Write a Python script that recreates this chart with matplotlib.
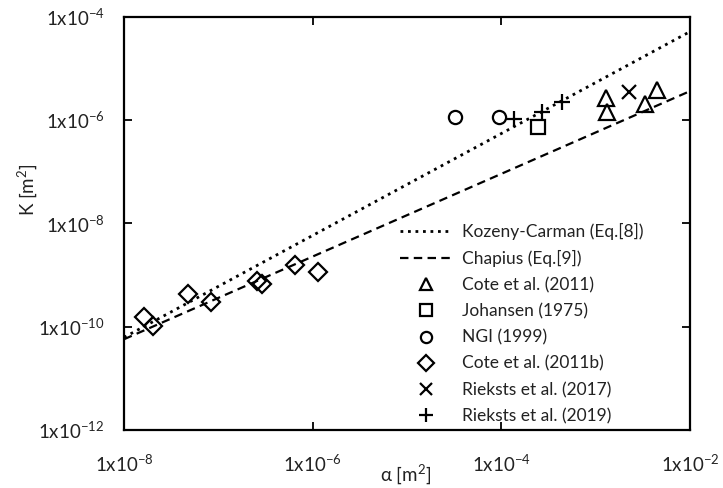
import matplotlib
matplotlib.use("Agg")
import matplotlib.pyplot as plt
from matplotlib.ticker import FixedLocator, NullLocator

plt.rcParams['font.family'] = ['Lato', 'DejaVu Sans']
plt.rcParams['mathtext.default'] = 'regular'

# Model lines (endpoints)
kc_alpha = [1e-8, 1e-2]
kc_K = [6.2e-11, 5.1e-5]
ch_alpha = [1e-8, 1e-2]
ch_K = [5.7e-11, 3.6e-6]

# Data series
cote_alpha = [1.28e-3, 1.33e-3, 3.32e-3, 4.44e-3]
cote_K = [2.64e-6, 1.45e-6, 2.05e-6, 3.83e-6]
joh_alpha = [2.42e-4]
joh_K = [7.4e-7]
ngi_alpha = [3.26e-5, 9.35e-5]
ngi_K = [1.13e-6, 1.13e-6]
cote_b_alpha = [1.64e-8, 2.01e-8, 4.79e-8, 8.34e-8, 2.54e-7, 2.91e-7, 6.46e-7, 1.14e-6]
cote_b_K = [1.56e-10, 1.05e-10, 4.32e-10, 3.05e-10, 7.6e-10, 6.8e-10, 1.53e-9, 1.13e-9]
rie17_alpha = [2.26e-3]
rie17_K = [3.39e-6]
rie19_alpha = [1.37e-4, 2.70e-4, 4.39e-4]
rie19_K = [1.03e-6, 1.41e-6, 2.17e-6]

xticks = [1e-8, 1e-6, 1e-4, 1e-2]
xtick_labels = ['1x10$^{-8}$', '1x10$^{-6}$', '1x10$^{-4}$', '1x10$^{-2}$']
yticks = [1e-12, 1e-10, 1e-8, 1e-6, 1e-4]
ytick_labels = ['1x10$^{-12}$', '1x10$^{-10}$', '1x10$^{-8}$', '1x10$^{-6}$', '1x10$^{-4}$']

W, H = 723, 488
fig = plt.figure(figsize=(W / 100, H / 100), dpi=100)
L, R, T, B = 124, 690, 16.5, 430
ax = fig.add_axes([L / W, 1 - B / H, (R - L) / W, (B - T) / H])
ax.set_xscale('log')
ax.set_yscale('log')
ax.set_xlim(1e-8, 1e-2)
ax.set_ylim(1e-12, 1e-4)

ax.plot(kc_alpha, kc_K, color='black', lw=2.0, linestyle=(0, (1, 1.7)),
        label='Kozeny-Carman (Eq.[8])')
ax.plot(ch_alpha, ch_K, color='black', lw=1.6, linestyle=(0, (3.8, 2.4)),
        label='Chapius (Eq.[9])')

mk = dict(linestyle='none', color='black', markerfacecolor='none', markeredgewidth=1.6)
ax.plot(cote_alpha, cote_K, marker='^', markersize=11, label='Cote et al. (2011)', **mk)
ax.plot(joh_alpha, joh_K, marker='s', markersize=10, label='Johansen (1975)', **mk)
ax.plot(ngi_alpha, ngi_K, marker='o', markersize=9.5, label='NGI (1999)', **mk)
ax.plot(cote_b_alpha, cote_b_K, marker='D', markersize=9, label='Cote et al. (2011b)', **mk)
ax.plot(rie17_alpha, rie17_K, marker='x', markersize=10, label='Rieksts et al. (2017)', **mk)
ax.plot(rie19_alpha, rie19_K, marker='+', markersize=12, label='Rieksts et al. (2019)', **mk)

ax.xaxis.set_major_locator(FixedLocator(xticks))
ax.yaxis.set_major_locator(FixedLocator(yticks))
ax.xaxis.set_minor_locator(NullLocator())
ax.yaxis.set_minor_locator(NullLocator())
ax.set_xticklabels(xtick_labels)
ax.set_yticklabels(ytick_labels)
ax.tick_params(which='major', direction='in', length=6, width=1.3,
               top=True, right=True, labelsize=13.5, color='black', labelcolor='#222222')
ax.tick_params(axis='x', pad=17)
ax.tick_params(axis='y', pad=14)
for s in ax.spines.values():
    s.set_linewidth(1.6)
    s.set_color('black')

ax.set_xlabel('α [m$^2$]', fontsize=13.5, color='#222222')
ax.set_ylabel('K [m$^2$]', fontsize=13.5, color='#222222')
ax.xaxis.set_label_coords(((406 - L) / (R - L)), -(474 - B) / (B - T), transform=ax.transAxes)
ax.yaxis.set_label_coords(-(124 - 27) / (R - L), (B - 190) / (B - T), transform=ax.transAxes)
ax.xaxis.label.set_va('center')
ax.yaxis.label.set_va('center')

leg = ax.legend(loc='upper left', bbox_to_anchor=(400 / W, 1 - 223 / H),
                bbox_transform=fig.transFigure, frameon=False, fontsize=12.5,
                handlelength=3.0, handletextpad=0.55, labelspacing=0.58,
                borderaxespad=0, borderpad=0, markerscale=0.85)
for t in leg.get_texts():
    t.set_color('#222222')

fig.savefig('out.png', dpi=100)
